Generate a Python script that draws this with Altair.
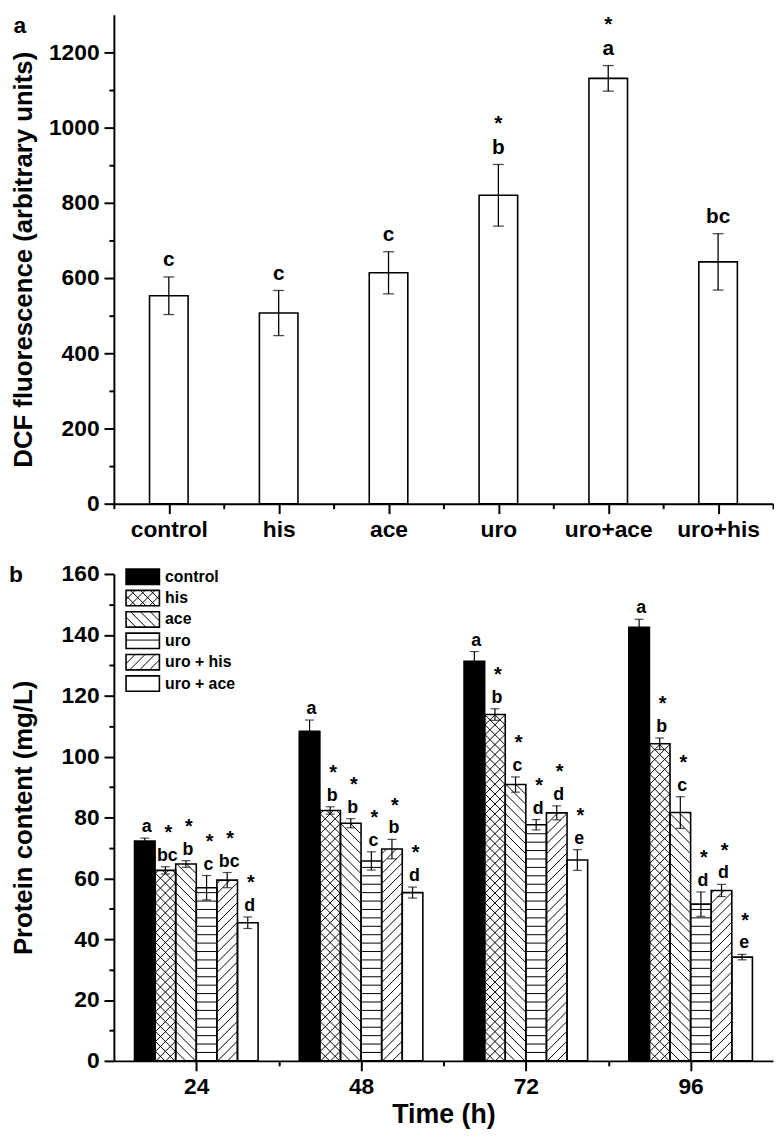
import json
import altair as alt
import pandas as pd

FONT = "Liberation Sans"

# ---------------- Panel a data ----------------
a_groups = ["control", "his", "ace", "uro", "uro+ace", "uro+his"]
a_values = [553, 507, 614, 820, 1131, 643]
a_errors = [50, 60, 56, 82, 34, 75]
a_letters = ["c", "c", "c", "b", "a", "bc"]
a_stars = ["", "", "", "*", "*", ""]

# ---------------- Panel b data ----------------
times = [24, 48, 72, 96]
b_series = ["control", "his", "ace", "uro", "uro + his", "uro + ace"]
control_vals = [72.2, 108.3, 131.3, 142.5]
his_vals = [62.6, 82.3, 113.8, 104.2]
ace_vals = [64.7, 78.1, 90.8, 81.6]
uro_vals = [56.9, 65.7, 77.6, 51.5]
urohis_vals = [59.4, 69.6, 81.5, 56.0]
uroace_vals = [45.4, 55.3, 66.0, 34.1]
control_err = [1.0, 3.7, 3.2, 2.6]
his_err = [1.2, 1.2, 1.9, 1.9]
ace_err = [1.1, 1.5, 2.5, 5.2]
uro_err = [4.0, 3.0, 1.7, 4.0]
urohis_err = [2.5, 3.2, 2.3, 2.0]
uroace_err = [1.9, 1.8, 3.4, 0.9]
control_let = ["a", "a", "a", "a"]
his_let = ["bc", "b", "b", "b"]
ace_let = ["b", "b", "c", "c"]
uro_let = ["c", "c", "d", "d"]
urohis_let = ["bc", "b", "d", "d"]
uroace_let = ["d", "d", "e", "e"]
star_flags = ["", "*", "*", "*", "*", "*"]

vals = [control_vals, his_vals, ace_vals, uro_vals, urohis_vals, uroace_vals]
errs = [control_err, his_err, ace_err, uro_err, urohis_err, uroace_err]
lets = [control_let, his_let, ace_let, uro_let, urohis_let, uroace_let]

rows = []
for i, s in enumerate(b_series):
    for j, t in enumerate(times):
        rows.append({"series": s, "idx": i, "time": t, "value": vals[i][j],
                     "err": errs[i][j], "letter": lets[i][j], "star": star_flags[i]})
df_b = pd.DataFrame(rows)
df_leg = pd.DataFrame({"series": b_series, "idx": list(range(len(b_series)))})
df_a = pd.DataFrame({"group": a_groups, "pos": list(range(1, len(a_groups) + 1)),
                     "value": a_values, "err": a_errors, "letter": a_letters, "star": a_stars})

# ---------------- geometry / style constants ----------------
W = 666
H_A = 494
H_B = 492
YMAX_A = 1300
YMAX_B = 160
XMIN_B, XMAX_B = 12, 108
KX = W / (XMAX_B - XMIN_B)
KY = H_B / YMAX_B
R = KX / KY
BAR_W = 3.0
SP = 10.0 / KY
SH = 8.5 / KY
TITLE_PAD = 12
EXT = 66
YTITLE = 26


def axis_common(**kw):
    base = dict(labelFont=FONT, labelFontWeight="bold", titleFont=FONT, titleFontWeight="bold",
                domainColor="black", domainWidth=2, tickColor="black", tickWidth=2,
                labelColor="black", titleColor="black", grid=False, labelOverlap=False,
                labelFlush=False)
    base.update(kw)
    return alt.Axis(**base)


def cond_tick(test, major=10, minor=5):
    return {"condition": {"test": test, "value": major}, "value": minor}


# ---------------- Panel a ----------------
xs_a = alt.Scale(domain=[0.5, 6.5], nice=False, zero=False)
ys_a = alt.Scale(domain=[0, YMAX_A], nice=False)
names_js = json.dumps(a_groups)
xa_axis = axis_common(values=[0.5 + 0.5 * i for i in range(13)],
                      labelExpr=f"datum.value % 1 === 0 ? {names_js}[datum.value - 1] : ''",
                      tickSize=cond_tick("datum.value % 1 === 0"),
                      labelFontSize=23, labelPadding=5)
ya_axis = axis_common(values=list(range(0, 1201, 100)), format="d",
                      labelExpr="datum.value % 200 === 0 ? datum.label : ''",
                      tickSize=cond_tick("datum.value % 200 === 0"),
                      labelFontSize=23, labelPadding=5, titleFontSize=YTITLE,
                      titlePadding=TITLE_PAD, minExtent=EXT, maxExtent=EXT)


def xa(f):
    return alt.X(f"{f}:Q", scale=xs_a, axis=xa_axis, title=None)


def ya(f):
    return alt.Y(f"{f}:Q", scale=ys_a, axis=ya_axis, title="DCF fluorescence (arbitrary units)")


base_a = alt.Chart(df_a).transform_calculate(
    xl="datum.pos - 0.1755", xr="datum.pos + 0.1755", lo="0",
    up="datum.value + datum.err", dn="datum.value - datum.err")

bars_a = base_a.mark_rect(fill="white", stroke="black", strokeWidth=1.6).encode(
    x=xa("xl"), x2=alt.X2("xr"), y=ya("lo"), y2=alt.Y2("value"))
err_a = base_a.mark_rule(color="black", strokeWidth=1.3).encode(
    x=xa("pos"), y=ya("dn"), y2=alt.Y2("up"))
capu_a = base_a.mark_tick(orient="horizontal", size=11, thickness=1.3, color="black").encode(
    x=xa("pos"), y=ya("up"))
capd_a = base_a.mark_tick(orient="horizontal", size=11, thickness=1.3, color="black").encode(
    x=xa("pos"), y=ya("dn"))
let_a = base_a.mark_text(font=FONT, fontSize=21, fontWeight="bold", baseline="alphabetic",
                         dy=-11, color="black").encode(x=xa("pos"), y=ya("up"), text="letter:N")
star_a = base_a.mark_text(font=FONT, fontSize=21, fontWeight="bold", baseline="top",
                          dy=-52, color="black").encode(x=xa("pos"), y=ya("up"), text="star:N")
lab_a = alt.Chart(pd.DataFrame({"t": ["a"]})).mark_text(
    font=FONT, fontSize=23, fontWeight="bold", baseline="top", align="center",
    color="black").encode(x=alt.value(-95), y=alt.value(0), text="t:N")

chart_a = alt.layer(bars_a, err_a, capu_a, capd_a, let_a, star_a, lab_a).properties(
    width=W, height=H_A)

# ---------------- Panel b ----------------
xs_b = alt.Scale(domain=[XMIN_B, XMAX_B], nice=False, zero=False)
ys_b = alt.Scale(domain=[0, YMAX_B], nice=False)
xb_axis = axis_common(values=[24, 36, 48, 60, 72, 84, 96],
                      labelExpr="datum.value % 24 === 0 ? datum.label : ''",
                      tickSize=cond_tick("datum.value % 24 === 0"),
                      labelFontSize=23, labelPadding=5, titleFontSize=27, titlePadding=3)
yb_axis = axis_common(values=list(range(0, 161, 10)), format="d",
                      labelExpr="datum.value % 20 === 0 ? datum.label : ''",
                      tickSize=cond_tick("datum.value % 20 === 0"),
                      labelFontSize=23, labelPadding=5, titleFontSize=YTITLE,
                      titlePadding=TITLE_PAD, minExtent=EXT, maxExtent=EXT)


def xb(f):
    return alt.X(f"{f}:Q", scale=xs_b, axis=xb_axis, title="Time (h)")


def yb(f):
    return alt.Y(f"{f}:Q", scale=ys_b, axis=yb_axis, title="Protein content (mg/L)")


bars_src = alt.Chart(df_b).transform_calculate(
    xl=f"datum.time + (datum.idx - 3) * {BAR_W}",
    xr=f"datum.time + (datum.idx - 2) * {BAR_W}",
    lo="0", hi="datum.value")

leg_src = alt.Chart(df_leg).transform_calculate(
    xl=f"{XMIN_B} + 12.3 / {KX}", xr=f"{XMIN_B} + 46 / {KX}",
    hi=f"{YMAX_B} - (-5 + datum.idx * 21.6) / {KY}",
    lo=f"datum.hi - 15.5 / {KY}")


def rect_layers(src):
    fill = src.mark_rect(strokeWidth=0).encode(
        x=xb("xl"), x2=alt.X2("xr"), y=yb("lo"), y2=alt.Y2("hi"),
        fill=alt.condition("datum.series === 'control'", alt.value("black"), alt.value("white")))
    seq = lambda c: c.transform_calculate(k="sequence(0, 80)").transform_flatten(["k"]).transform_calculate(
        D=f"(datum.xr - datum.xl) * {R}")
    back = seq(src.transform_filter("datum.series === 'his' || datum.series === 'ace'")).transform_calculate(
        c=f"datum.lo + datum.k * {SP}",
        u0="max(0, (datum.c - datum.hi) / datum.D)",
        u1="min(1, (datum.c - datum.lo) / datum.D)").transform_filter(
        "datum.u1 > datum.u0 + 0.001").transform_calculate(
        hx0="datum.xl + datum.u0 * (datum.xr - datum.xl)",
        hx1="datum.xl + datum.u1 * (datum.xr - datum.xl)",
        hy0="datum.c - datum.D * datum.u0",
        hy1="datum.c - datum.D * datum.u1").mark_rule(color="black", strokeWidth=1).encode(
        x=xb("hx0"), x2=alt.X2("hx1"), y=yb("hy0"), y2=alt.Y2("hy1"))
    fwd = seq(src.transform_filter("datum.series === 'his' || datum.series === 'uro + his'")).transform_calculate(
        c=f"datum.lo - datum.D + datum.k * {SP}",
        u0="max(0, (datum.lo - datum.c) / datum.D)",
        u1="min(1, (datum.hi - datum.c) / datum.D)").transform_filter(
        "datum.u1 > datum.u0 + 0.001").transform_calculate(
        hx0="datum.xl + datum.u0 * (datum.xr - datum.xl)",
        hx1="datum.xl + datum.u1 * (datum.xr - datum.xl)",
        hy0="datum.c + datum.D * datum.u0",
        hy1="datum.c + datum.D * datum.u1").mark_rule(color="black", strokeWidth=1).encode(
        x=xb("hx0"), x2=alt.X2("hx1"), y=yb("hy0"), y2=alt.Y2("hy1"))
    horiz = src.transform_filter("datum.series === 'uro'").transform_calculate(
        k="sequence(1, 80)").transform_flatten(["k"]).transform_calculate(
        c=f"datum.lo + datum.k * {SH}").transform_filter(
        "datum.c < datum.hi - 0.4").mark_rule(color="black", strokeWidth=1).encode(
        x=xb("xl"), x2=alt.X2("xr"), y=yb("c"))
    outline = src.mark_rect(fill="white", fillOpacity=0, stroke="black", strokeWidth=1.6).encode(
        x=xb("xl"), x2=alt.X2("xr"), y=yb("lo"), y2=alt.Y2("hi"))
    return [fill, back, fwd, horiz, outline]


eb_src = bars_src.transform_calculate(
    xc="(datum.xl + datum.xr) / 2", up="datum.value + datum.err", dn="datum.value - datum.err")
err_b = eb_src.mark_rule(color="black", strokeWidth=1.2).encode(
    x=xb("xc"), y=yb("dn"), y2=alt.Y2("up"))
capu_b = eb_src.mark_tick(orient="horizontal", size=9, thickness=1.2, color="black").encode(
    x=xb("xc"), y=yb("up"))
capd_b = eb_src.mark_tick(orient="horizontal", size=9, thickness=1.2, color="black").encode(
    x=xb("xc"), y=yb("dn"))
let_b = eb_src.mark_text(font=FONT, fontSize=18, fontWeight="bold", baseline="alphabetic",
                         dy=-6, dx=2, color="black").encode(x=xb("xc"), y=yb("up"), text="letter:N")
star_b = eb_src.mark_text(font=FONT, fontSize=20, fontWeight="bold", baseline="alphabetic",
                          dy=-28, dx=3, color="black").encode(x=xb("xc"), y=yb("up"), text="star:N")
leg_text = leg_src.transform_calculate(
    tx=f"{XMIN_B} + 51.7 / {KX}", ty="(datum.lo + datum.hi) / 2").mark_text(
    font=FONT, fontSize=16, fontWeight="bold", align="left", baseline="middle",
    color="black").encode(x=xb("tx"), y=yb("ty"), text="series:N")
lab_b = alt.Chart(pd.DataFrame({"t": ["b"]})).mark_text(
    font=FONT, fontSize=23, fontWeight="bold", baseline="top", align="center",
    color="black").encode(x=alt.value(-99), y=alt.value(-10), text="t:N")

chart_b = alt.layer(*rect_layers(bars_src), err_b, capu_b, capd_b, let_b, star_b,
                    *rect_layers(leg_src), leg_text, lab_b).properties(width=W, height=H_B)

chart = alt.vconcat(chart_a, chart_b, spacing=22, padding=0).configure_view(stroke=None)

chart.save("out.html", embed_options={"renderer": "svg", "actions": False})
